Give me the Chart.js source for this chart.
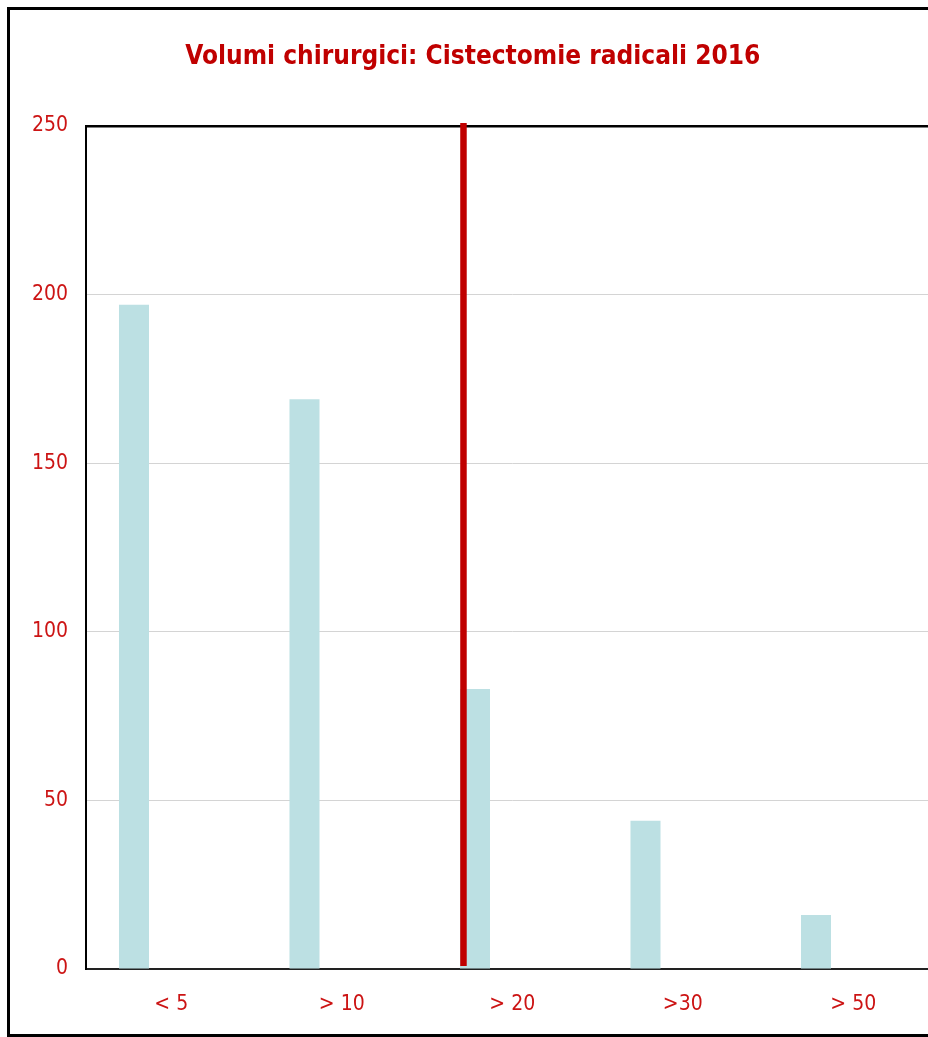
<!DOCTYPE html>
<html>
<head>
<meta charset="utf-8">
<script src="https://cdn.jsdelivr.net/npm/chart.js@4/dist/chart.umd.min.js"></script>
<style>
  html, body { margin: 0; padding: 0; background: #fff; overflow: hidden; }
  body { width: 928px; height: 1037px; position: relative; }
  #frame {
    position: absolute; left: 7px; top: 7px;
    width: 1000px; height: 1030px;
    box-sizing: border-box; border: 3px solid #000;
  }
  #myChart { position: absolute; left: 0; top: 0; }
</style>
</head>
<body>
<div id="frame"></div>
<canvas id="myChart" width="960" height="1037"></canvas>
<script>
var titolo = 'Volumi chirurgici: Cistectomie radicali 2016';
var categorie = ['< 5', '> 10', '> 20', '>30', '> 50'];
var cistectomie = [197, 169, 83, 44, 16];
var tickY = [0, 50, 100, 150, 200, 250];
var soglia = '> 20';

var ROSSO = '#c00000';
var ROSSO_TICK = '#cc1414';
var FONT = "'DejaVu Sans Condensed', 'Liberation Sans Narrow', 'Arial Narrow', sans-serif";

// vertical red marker on the left edge of the threshold bar
var lineaSoglia = {
    id: 'lineaSoglia',
    afterDatasetsDraw: function (chart) {
        var meta = chart.getDatasetMeta(0);
        var bar = meta.data[categorie.indexOf(soglia)];
        if (!bar) return;
        var x = bar.x - bar.width / 2 + 3.5;
        var area = chart.chartArea;
        var ctx = chart.ctx;
        ctx.save();
        ctx.strokeStyle = ROSSO;
        ctx.lineWidth = 6.5;
        ctx.beginPath();
        ctx.moveTo(x, area.top - 3);
        ctx.lineTo(x, area.bottom - 3);
        ctx.stroke();
        ctx.restore();
    }
};

var ctx = document.getElementById('myChart').getContext('2d');
new Chart(ctx, {
    type: 'bar',
    data: {
        labels: categorie,
        datasets: [{
            label: '2016',
            data: cistectomie,
            backgroundColor: '#bce0e3',
            borderWidth: 0
        }, {
            // empty second series, keeps the bars in the left slot
            label: '',
            data: [],
            backgroundColor: 'rgba(0,0,0,0)'
        }]
    },
    options: {
        responsive: false,
        animation: false,
        categoryPercentage: 0.874,
        barPercentage: 0.403,
        layout: { padding: { left: 7, right: 21.5, top: 0, bottom: 0 } },
        plugins: {
            legend: { display: false },
            tooltip: { enabled: false },
            title: {
                display: true,
                text: titolo,
                color: ROSSO,
                font: { family: FONT, size: 26, weight: 'bold' },
                padding: { top: 42, bottom: 52.8 }
            }
        },
        scales: {
            x: {
                grid: { display: false },
                border: { color: '#222', width: 2 },
                ticks: {
                    color: ROSSO_TICK,
                    font: { family: FONT, size: 21 },
                    padding: 15
                },
                afterFit: function (scale) { scale.height = 68; }
            },
            y: {
                min: 0,
                max: 250,
                afterBuildTicks: function (scale) {
                    scale.ticks = tickY.map(function (v) { return { value: v }; });
                },
                grid: {
                    drawTicks: false,
                    color: function (c) { return c.tick && c.tick.value === 250 ? '#000' : '#d4d4d4'; },
                    lineWidth: function (c) { return c.tick && c.tick.value === 250 ? 2.5 : 1; }
                },
                border: { color: '#000', width: 2 },
                ticks: {
                    color: ROSSO_TICK,
                    font: { family: FONT, size: 21 },
                    padding: 18
                },
                afterFit: function (scale) { scale.width = 79; }
            }
        }
    },
    plugins: [lineaSoglia]
});
</script>
</body>
</html>
